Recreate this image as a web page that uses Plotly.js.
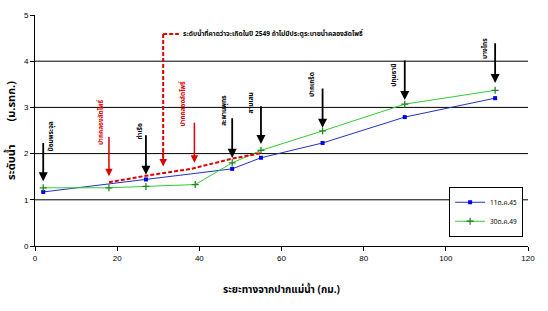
<!DOCTYPE html>
<html>
<head>
<meta charset="utf-8">
<script src="https://cdn.plot.ly/plotly-3.0.1.min.js"></script>
<style>html,body{margin:0;padding:0;background:#fff;}#chart{width:548px;height:311px;}</style>
</head>
<body>
<div id="chart"></div>
<script>
// ---- data ----
const seriesNames = ["11ต.ค.45", "30ต.ค.49"];
const blueX = [2, 27, 48, 55, 70, 90, 112];
const blueY = [1.17, 1.44, 1.67, 1.91, 2.23, 2.79, 3.20];
const greenX = [2, 18, 27, 39, 48, 55, 70, 90, 112];
const greenY = [1.26, 1.26, 1.29, 1.33, 1.80, 2.07, 2.49, 3.07, 3.37];
const projX = [18, 27, 38, 48, 55];
const projY = [1.38, 1.52, 1.67, 1.89, 2.01];
const projLabel = "ระดับน้ำที่คาดว่าจะเกิดในปี 2549 ถ้าไม่มีประตูระบายน้ำคลองลัดโพธิ์";
const stationNames = ["ป้อมพระจุล", "ปากคลองลัดโพธิ์", "ท่าเรือ", "ปากคลองลัดโพธิ์", "สะพานพุทธ", "สามเสน", "ปากเกร็ด", "ปทุมธานี", "บางไทร"];
const stationKm = [2, 18, 27, 38.8, 48, 55, 70, 90, 112];
const stationRed = [false, true, false, true, false, false, false, false, false];
const xTicks = [0, 20, 40, 60, 80, 100, 120];
const yTicks = [0, 1, 2, 3, 4, 5];
const gridVals = [1, 2, 3, 4];
const xTitle = "ระยะทางจากปากแม่น้ำ (กม.)";
const yTitle = "ระดับน้ำ\u00a0\u00a0\u00a0\u00a0\u00a0\u00a0\u00a0\u00a0(ม.รทก.)";

// ---- layout helpers (positions, not data) ----
const arrowTop = [2.26, 2.39, 2.43, 2.70, 2.80, 3.06, 3.44, 4.05, 4.42];
const arrowTip = [1.40, 1.51, 1.54, 1.80, 1.91, 2.21, 2.56, 3.16, 3.53];
const labelX = [4.0, 15.9, 25.6, 36.1, 45.8, 52.5, 67.6, 87.3, 109.7];
const labelY = [2.38, 2.69, 2.48, 3.09, 2.93, 3.10, 3.50, 3.70, 4.28];
const projArrowX = 31.2, projArrowTop = 4.59, projArrowTip = 1.72, projTextX = 35.5;

const FONT = "'Noto Sans Thai', 'Noto Sans', Tahoma, 'DejaVu Sans', sans-serif";
const RED = "#dd0000";

const traces = [
  {x: blueX, y: blueY, name: seriesNames[0], mode: "lines+markers", type: "scatter",
   line: {color: "#2233bb", width: 1}, marker: {symbol: "square", size: 4, color: "#0000ee"}},
  {x: greenX, y: greenY, name: seriesNames[1], mode: "lines+markers", type: "scatter",
   line: {color: "#33cc33", width: 1}, marker: {symbol: "cross-thin", size: 5, line: {color: "#228822", width: 1.3}}},
  {x: projX, y: projY, mode: "lines", type: "scatter", showlegend: false, hoverinfo: "skip",
   line: {color: RED, width: 2, dash: "4px,2px"}}
];

const shapes = gridVals.map(v => ({type: "line", xref: "paper", yref: "y", x0: 0, x1: 1, y0: v, y1: v,
  line: {color: "#000", width: 1}, layer: "below"}));
shapes.push({type: "line", xref: "x", yref: "y", x0: projArrowX, x1: projArrowX, y0: projArrowTop, y1: projArrowTip + 0.12,
  line: {color: RED, width: 2, dash: "4px,2px"}});
shapes.push({type: "line", xref: "x", yref: "y", x0: projArrowX, x1: projTextX - 0.5, y0: projArrowTop, y1: projArrowTop,
  line: {color: RED, width: 2, dash: "4px,2px"}});

const annotations = [];
stationKm.forEach((k, i) => {
  const col = stationRed[i] ? RED : "#000";
  annotations.push({x: k, y: arrowTip[i], ax: k, ay: arrowTop[i], xref: "x", yref: "y", axref: "x", ayref: "y",
    text: "", showarrow: true, arrowhead: 2, arrowsize: 1, arrowwidth: stationRed[i] ? 1.5 : 1.8, arrowcolor: col});
  annotations.push({x: labelX[i], y: labelY[i], xref: "x", yref: "y", text: "<b>" + stationNames[i] + "</b>",
    showarrow: false, textangle: -90, xanchor: "center", yanchor: "middle", borderpad: 0,
    font: {family: FONT, size: 6.5, color: col}});
});
annotations.push({x: projArrowX, y: projArrowTip, ax: projArrowX, ay: projArrowTip + 0.4, xref: "x", yref: "y", axref: "x", ayref: "y",
  text: "", showarrow: true, arrowhead: 2, arrowsize: 1, arrowwidth: 1.5, arrowcolor: RED});
annotations.push({x: projTextX, y: projArrowTop, xref: "x", yref: "y", text: "<b>" + projLabel + "</b>",
  showarrow: false, xanchor: "left", yanchor: "middle", font: {family: FONT, size: 6.6, color: "#000"}});

const layout = {
  width: 548, height: 311,
  margin: {l: 35, r: 20, t: 15, b: 64.5, pad: 0},
  paper_bgcolor: "#fff", plot_bgcolor: "#fff",
  showlegend: true,
  legend: {x: 0.84, y: 0.04, xanchor: "left", yanchor: "bottom", bgcolor: "#fff", bordercolor: "#000", borderwidth: 1,
    font: {family: FONT, size: 6.5, color: "#000"}, itemwidth: 30, tracegroupgap: 0},
  xaxis: {range: [0, 120], tickvals: xTicks, showgrid: false, zeroline: false, showline: true, linecolor: "#000", linewidth: 1,
    ticks: "outside", ticklen: 4, tickcolor: "#000", tickfont: {family: "Arial, Liberation Sans, sans-serif", size: 8, color: "#000"},
    title: {text: "<b>" + xTitle + "</b>", font: {family: FONT, size: 10, color: "#000"}, standoff: 24}},
  yaxis: {range: [0, 5], tickvals: yTicks, showgrid: false, zeroline: false, showline: true, linecolor: "#000", linewidth: 1,
    ticks: "outside", ticklen: 4, tickcolor: "#000", tickfont: {family: "Arial, Liberation Sans, sans-serif", size: 8, color: "#000"},
    title: {text: "<b>" + yTitle + "</b>", font: {family: FONT, size: 11, color: "#000"}, standoff: 6}},
  shapes: shapes,
  annotations: annotations
};

Plotly.newPlot("chart", traces, layout, {displayModeBar: false, staticPlot: true});
</script>
</body>
</html>
